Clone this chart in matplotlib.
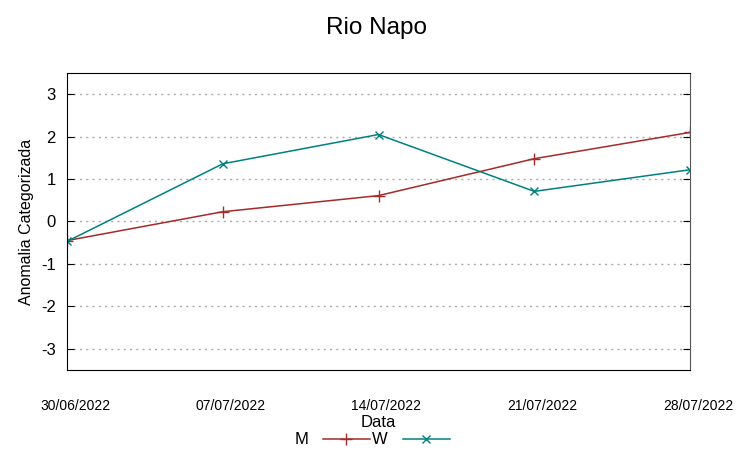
import matplotlib
matplotlib.use("Agg")
import matplotlib.pyplot as plt
import matplotlib.transforms as mtransforms
import pandas as pd

plt.rcParams['font.family'] = ['Liberation Sans', 'DejaVu Sans']

dates = ["2022-06-30", "2022-07-07", "2022-07-14", "2022-07-21", "2022-07-28"]
tick_labels = ["30/06/2022", "07/07/2022", "14/07/2022", "21/07/2022", "28/07/2022"]
m_values = [-0.45, 0.23, 0.61, 1.48, 2.10]
w_values = [-0.47, 1.36, 2.05, 0.71, 1.22]
y_ticks = [-3, -2, -1, 0, 1, 2, 3]

x = pd.to_datetime(dates)

fig = plt.figure(figsize=(7.53, 4.59), dpi=100)
ax = fig.add_axes([67/753, 1-370/459, (690-67)/753, (370-73)/459])

ax.plot(x, m_values, color='#a52a2a', lw=1.1, marker='+', ms=8, mew=1.0, label='M')
ax.plot(x, w_values, color='#008080', lw=1.1, marker='x', ms=6, mew=1.0, label='W')

ax.set_xlim(x[0], x[-1])
ax.set_ylim(-3.5, 3.5)
ax.set_yticks(y_ticks)
ax.set_yticklabels([str(v) for v in y_ticks], fontsize=12)
ax.set_xticks(x)
ax.set_xticklabels(tick_labels, fontsize=10)
ax.tick_params(axis='y', direction='in', length=5, right=True, left=True, pad=8)
ax.tick_params(axis='x', length=0, pad=21)
offset = mtransforms.ScaledTranslation(8/100, 0, fig.dpi_scale_trans)
for lbl in ax.get_xticklabels():
    lbl.set_transform(lbl.get_transform() + offset)
ax.yaxis.grid(True, linestyle=(0, (1.5, 3)), color='#aaaaaa', lw=1)
for s in ['left', 'bottom', 'top']:
    ax.spines[s].set_color('black')
ax.spines['right'].set_color('#555555')

ax.set_xlabel('Data', fontsize=12, labelpad=1)
ax.set_ylabel('Anomalia Categorizada', fontsize=11.5, labelpad=5)
fig.suptitle('Rio Napo', fontsize=17.5, y=1-28/459, va='center')

leg = fig.legend(loc='center', bbox_to_anchor=(372/753, 1-440/459), ncol=2,
                 frameon=False, markerfirst=False, fontsize=12,
                 handlelength=2.8, columnspacing=0.15, handletextpad=0.9,
                 borderpad=0)
fig.savefig('out.png', dpi=100)
